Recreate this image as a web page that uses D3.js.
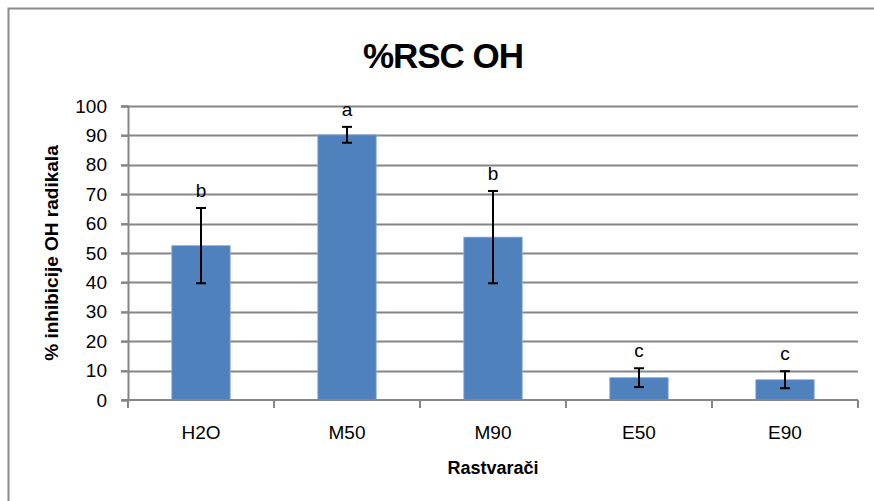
<!DOCTYPE html>
<html>
<head>
<meta charset="utf-8">
<script src="https://cdn.jsdelivr.net/npm/d3@7"></script>
<style>
  body { margin: 0; background: #fff; }
  text { font-family: "Liberation Sans", Arial, sans-serif; fill: #000; }
</style>
</head>
<body>
<div id="svgcontainer"></div>
<script>
// data
var categories = ["H2O", "M50", "M90", "E50", "E90"];
var values = [52.5, 90.2, 55.4, 7.6, 6.9];
var errors = [12.8, 2.7, 15.7, 3.2, 2.9];
var letters = ["b", "a", "b", "c", "c"];
var yTicks = [0, 10, 20, 30, 40, 50, 60, 70, 80, 90, 100];

var W = 874, H = 501;
var margin = { top: 106, right: 16, bottom: 101, left: 128 },
    width = W - margin.left - margin.right,
    height = H - margin.top - margin.bottom;

var svg = d3.select("#svgcontainer")
    .append("svg")
    .attr("width", W)
    .attr("height", H);

// outer chart border (runs off right and bottom)
svg.append("rect")
    .attr("x", 8.5).attr("y", 8.5)
    .attr("width", W + 20).attr("height", H + 20)
    .attr("fill", "none")
    .attr("stroke", "#8c8c8c")
    .attr("stroke-width", 2);

svg.append("text")
    .attr("x", 443).attr("y", 68)
    .attr("text-anchor", "middle")
    .style("font-size", "35px")
    .style("font-weight", "bold")
    .style("letter-spacing", "-1px")
    .text("%RSC OH");

var g = svg.append("g")
    .attr("transform", "translate(" + margin.left + "," + margin.top + ")");

var x = d3.scaleBand()
    .domain(categories)
    .range([0, width])
    .paddingInner(0.6)
    .paddingOuter(0.3);

var y = d3.scaleLinear()
    .domain([0, 100])
    .range([height, 0]);

// gridlines
g.append("g")
    .selectAll("line")
    .data(yTicks.filter(d => d > 0))
    .join("line")
    .attr("x1", -7).attr("x2", width)
    .attr("y1", d => Math.round(y(d)) + 0.5)
    .attr("y2", d => Math.round(y(d)) + 0.5)
    .attr("stroke", "#868686")
    .attr("stroke-width", 2);

// y axis
var yAxis = g.append("g")
    .attr("class", "yaxis")
    .call(d3.axisLeft(y).tickValues(yTicks).tickSize(7).tickPadding(14));
yAxis.select(".domain").attr("stroke", "#868686").attr("stroke-width", 2);
yAxis.selectAll(".tick line").attr("stroke", "#868686").attr("stroke-width", 2);
yAxis.selectAll("text")
    .style("font-size", "19px")
    .style("font-family", "'Liberation Sans', Arial, sans-serif")
    .attr("fill", "#000");

// bars
g.append("g")
    .selectAll("rect")
    .data(values)
    .join("rect")
    .attr("x", (d, i) => x(categories[i]))
    .attr("y", d => y(d))
    .attr("width", x.bandwidth())
    .attr("height", d => height - y(d))
    .attr("fill", "#4F81BD")
    .attr("stroke", "#8eaedb")
    .attr("stroke-width", 0.8);

// x axis: ticks at category boundaries
var boundaries = d3.range(categories.length + 1).map(i => i * x.step());
var xAxis = g.append("g")
    .attr("transform", "translate(0," + height + ")");
xAxis.append("line")
    .attr("x1", -7).attr("x2", width)
    .attr("y1", 0).attr("y2", 0)
    .attr("stroke", "#868686").attr("stroke-width", 2);
xAxis.selectAll(".bt")
    .data(boundaries)
    .join("line")
    .attr("class", "bt")
    .attr("x1", d => d).attr("x2", d => d)
    .attr("y1", 0).attr("y2", 8)
    .attr("stroke", "#868686").attr("stroke-width", 2);
xAxis.selectAll(".lbl")
    .data(categories)
    .join("text")
    .attr("class", "lbl")
    .attr("x", d => x(d) + x.bandwidth() / 2)
    .attr("y", 39)
    .attr("text-anchor", "middle")
    .style("font-size", "19px")
    .text(d => d);

// error bars
var eb = g.append("g")
    .selectAll("g")
    .data(values)
    .join("g")
    .attr("transform", (d, i) => "translate(" + (x(categories[i]) + x.bandwidth() / 2) + ",0)");
eb.append("line")
    .attr("y1", (d, i) => y(d + errors[i]))
    .attr("y2", (d, i) => y(d - errors[i]))
    .attr("stroke", "#000").attr("stroke-width", 2);
eb.append("line")
    .attr("x1", -5).attr("x2", 5)
    .attr("y1", (d, i) => y(d + errors[i]))
    .attr("y2", (d, i) => y(d + errors[i]))
    .attr("stroke", "#000").attr("stroke-width", 2);
eb.append("line")
    .attr("x1", -5).attr("x2", 5)
    .attr("y1", (d, i) => y(d - errors[i]))
    .attr("y2", (d, i) => y(d - errors[i]))
    .attr("stroke", "#000").attr("stroke-width", 2);

// significance letters
eb.append("text")
    .attr("y", (d, i) => y(d + errors[i]) - 11)
    .attr("text-anchor", "middle")
    .style("font-size", "19px")
    .text((d, i) => letters[i]);

// axis titles
svg.append("text")
    .attr("transform", "translate(58," + (margin.top + height / 2 + 0) + ") rotate(-90)")
    .attr("text-anchor", "middle")
    .style("font-size", "19px")
    .style("font-weight", "bold")
    .text("% inhibicije OH radikala");

svg.append("text")
    .attr("x", 493).attr("y", 474)
    .attr("text-anchor", "middle")
    .style("font-size", "18px")
    .style("font-weight", "bold")
    .text("Rastvarači");
</script>
</body>
</html>
